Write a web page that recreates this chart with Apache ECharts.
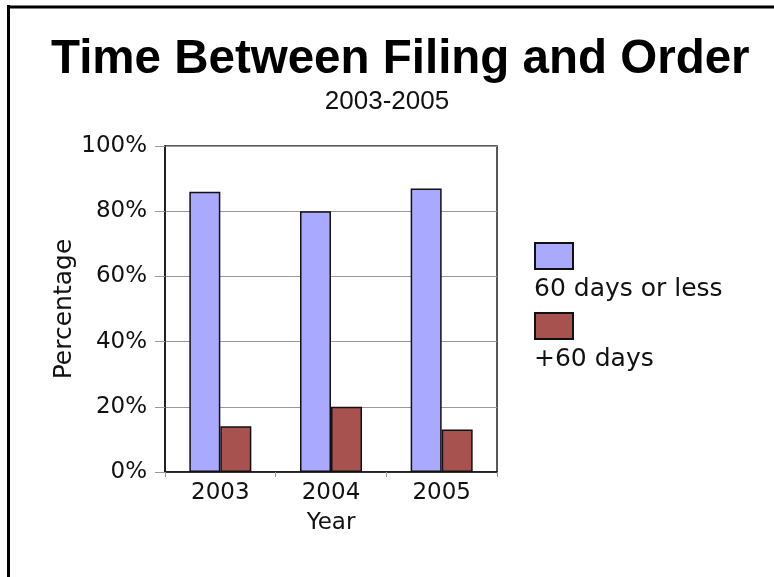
<!DOCTYPE html>
<html>
<head>
<meta charset="utf-8">
<script src="https://cdn.jsdelivr.net/npm/echarts@6/dist/echarts.min.js"></script>
<style>
  html, body { margin: 0; padding: 0; background: #fff; }
  #chart { width: 774px; height: 577px; }
</style>
</head>
<body>
<div id="chart"></div>
<script>
// Share of cases by time between filing and order, per year
const years = ['2003', '2004', '2005'];
const within60 = [86, 80, 87];
const over60 = [14, 20, 13];
const seriesNames = ['60 days or less', '+60 days'];
const yTicks = [0, 20, 40, 60, 80, 100];

const labelFont = 'DejaVu Sans';
const chart = echarts.init(document.getElementById('chart'), null, { renderer: 'canvas' });

chart.setOption({
  backgroundColor: '#ffffff',
  animation: false,
  title: [
    {
      text: 'Time Between Filing and Order',
      left: 46,
      top: 31,
      textStyle: { fontFamily: 'Liberation Sans', fontWeight: 'bold', fontSize: 47.5, color: '#000' }
    },
    {
      text: '2003-2005',
      left: 'center',
      top: 84,
      textStyle: { fontFamily: 'Liberation Sans', fontWeight: 'normal', fontSize: 26, color: '#111' }
    }
  ],
  grid: {
    left: 165, top: 146, width: 332, height: 326,
    show: true, borderColor: '#222', borderWidth: 1.5, backgroundColor: 'transparent'
  },
  legend: [
    {
      // swatches
      data: seriesNames,
      orient: 'vertical',
      left: 529, top: 237,
      icon: 'rect',
      itemWidth: 38, itemHeight: 26, itemGap: 42,
      formatter: () => '',
      selectedMode: false,
      textStyle: { fontSize: 1 }
    },
    {
      // names, set under each swatch
      data: seriesNames.map(n => ({ name: n, icon: 'rect', itemStyle: { opacity: 0 } })),
      orient: 'vertical',
      left: 523, top: 270,
      itemWidth: 0, itemHeight: 26, itemGap: 42,
      selectedMode: false,
      textStyle: { fontFamily: labelFont, fontSize: 25, color: '#111', lineHeight: 26 }
    }
  ],
  xAxis: {
    type: 'category',
    data: years,
    name: 'Year',
    nameLocation: 'middle',
    nameGap: 40,
    nameTextStyle: { fontFamily: labelFont, fontSize: 23, color: '#111' },
    axisLine: { lineStyle: { color: '#111', width: 1.5 } },
    axisTick: { show: true, inside: false, length: 5, interval: 0, lineStyle: { color: '#999' } },
    axisLabel: { fontFamily: labelFont, fontSize: 23, color: '#111', margin: 10 }
  },
  yAxis: {
    type: 'value',
    min: yTicks[0],
    max: yTicks[yTicks.length - 1],
    interval: 20,
    name: 'Percentage',
    nameLocation: 'middle',
    nameGap: 78,
    nameRotate: 90,
    nameTextStyle: { fontFamily: labelFont, fontSize: 25, color: '#111' },
    axisLine: { show: true, lineStyle: { color: '#111', width: 1.5 } },
    axisTick: { show: true, inside: false, length: 10, lineStyle: { color: '#999' } },
    axisLabel: { fontFamily: labelFont, fontSize: 23, color: '#111', margin: 18, formatter: '{value}%' },
    splitLine: { show: true, lineStyle: { color: '#999', width: 1.2 } }
  },
  series: [
    {
      name: seriesNames[0],
      type: 'bar',
      data: within60,
      barWidth: 31,
      barGap: '0%',
      itemStyle: { color: '#a9a9ff', borderColor: '#111', borderWidth: 1.5 }
    },
    {
      name: seriesNames[1],
      type: 'bar',
      data: over60,
      barWidth: 31,
      itemStyle: { color: '#a85250', borderColor: '#111', borderWidth: 1.5 }
    }
  ],
  graphic: [
    { type: 'line', shape: { x1: 8.5, y1: 5, x2: 8.5, y2: 577 }, style: { stroke: '#000', lineWidth: 3 } },
    { type: 'line', shape: { x1: 7, y1: 7, x2: 774, y2: 7 }, style: { stroke: '#000', lineWidth: 3 } }
  ]
});
</script>
</body>
</html>
